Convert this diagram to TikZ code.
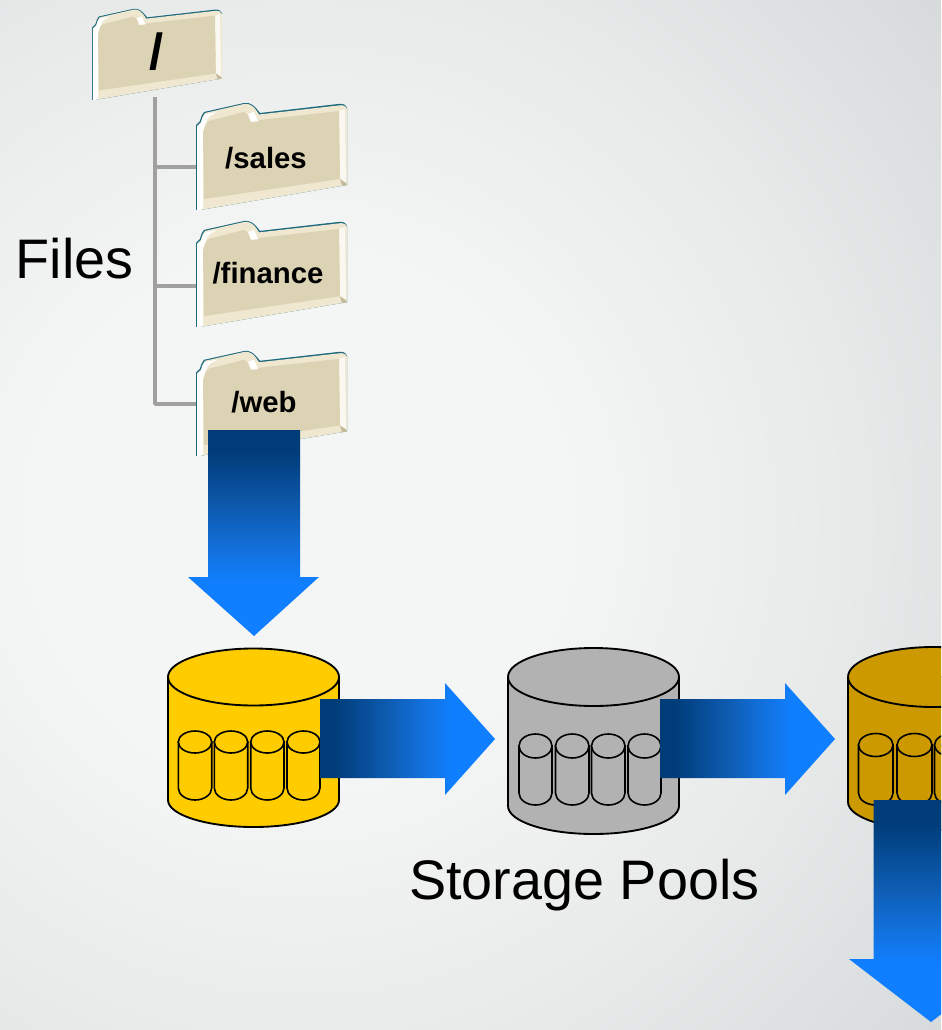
\documentclass[tikz,border=0pt]{standalone}
\usepackage{fontspec}
\setmainfont{Liberation Sans}
\definecolor{bgA}{HTML}{F4F5F5}
\definecolor{bgB}{HTML}{E9EBEB}
\definecolor{bgC}{HTML}{D6DADA}
\definecolor{arrowdark}{HTML}{003C78}
\definecolor{arrowmid}{HTML}{0E5DB4}
\definecolor{arrowhigh}{HTML}{1270DC}
\definecolor{arrowlight}{HTML}{107FFF}
\definecolor{foldertealc}{HTML}{1D6A80}
\definecolor{foldercream}{HTML}{EFE7CF}
\definecolor{folderface}{HTML}{DCD2B4}
\definecolor{folderedge}{HTML}{C4BA9C}
\definecolor{treeline}{HTML}{A0A0A0}
\definecolor{poolyellow}{HTML}{FFCC00}
\definecolor{poolgray}{HTML}{B2B2B2}
\definecolor{pooltan}{HTML}{CC9900}
\pgfdeclareradialshading{bgshade}{\pgfpoint{0bp}{0bp}}{color(0bp)=(bgA);color(8bp)=(bgA);color(16bp)=(bgB);color(25bp)=(bgC);color(50bp)=(bgC)}
\pgfdeclareverticalshading{downgrad}{100bp}{color(0bp)=(arrowlight);color(38bp)=(arrowlight);color(46bp)=(arrowhigh);color(55bp)=(arrowmid);color(70bp)=(arrowdark);color(100bp)=(arrowdark)}
\pgfdeclarehorizontalshading{rightgrad}{100bp}{color(0bp)=(arrowdark);color(29bp)=(arrowdark);color(45bp)=(arrowmid);color(54bp)=(arrowhigh);color(63bp)=(arrowlight);color(100bp)=(arrowlight)}
\tikzset{
  labeltext/.style={font=\fontsize{41.8}{42}\selectfont,inner sep=0pt,anchor=base west},
  foldertext/.style={font=\fontsize{22}{22}\selectfont\bfseries,inner sep=0pt},
  treeconn/.style={draw=treeline,line width=2.6pt},
  poolline/.style={draw=black,line width=1.4pt},
  drumline/.style={draw=black,line width=1.2pt},
}
% name, x, y, xscale, yscale
\newcommand{\folderbox}[5]{%
  \begin{scope}[shift={(#2,#3)},xscale=#4,yscale=#5]
    \fill[foldertealc] (0,108)--(0,23)--(4,19) .. controls (5,15) and (6,12) .. (8,10)--(48,1) .. controls (54,0) and (58,3) .. (64,11)--(142,2) .. controls (147,1) and (150,3) .. (151,6)--(151,83)--(4,108)--cycle;
    \fill[foldercream] (1,108)--(1,24)--(5,20) .. controls (6,16) and (7,13) .. (9,11)--(48,2) .. controls (54,1) and (58,4) .. (63,12.5)--(142,3.5) .. controls (147,2.5) and (150,4) .. (151,7)--(151,83)--(4,108)--cycle;
    \fill[white] (1.2,108)--(1.2,24.5)--(5,21) .. controls (6,17) and (8,13) .. (10,12)--(21,10)--(14,14) .. controls (11,17) and (8,24) .. (7,30)--(7,107)--(4,108)--cycle;
    \fill[white!70!foldercream] (143,9)--(149,7)--(150,81)--(144,77)--cycle;
    \fill[folderedge] (144,77)--(150,81)--(151,83)--(146,84)--cycle;
    \fill[folderface] (7,32) .. controls (8,26) and (10,21) .. (13,19)--(48,10)--(52,13)--(55,20)--(61,20)--(64,18)--(143,9)--(144,77)--(8,97)--cycle;
    \fill[white] (52,12)--(58,10)--(62,19)--(55,20)--cycle;
    \coordinate (#1left) at (0,65);
    \coordinate (#1bottom) at (72,95);
  \end{scope}}
% name, x-left, x-right, rim y, ry, side end y, bottom y, fill
\newcommand{\poolbody}[8]{%
  \pgfmathsetmacro{\rxx}{(#3-#2)/2}
  \pgfmathsetmacro{\cxx}{(#3+#2)/2}
  \pgfmathsetmacro{\ryb}{#7-#6}
  \coordinate (#1) at (\cxx,#4);
  \filldraw[poolline,fill=#8] (#2,#4) -- (#2,#6) .. controls (#2,#6+0.55*\ryb) and (\cxx-0.55*\rxx,#7) .. (\cxx,#7) .. controls (\cxx+0.55*\rxx,#7) and (#3,#6+0.55*\ryb) .. (#3,#6) -- (#3,#4) -- cycle;
  \filldraw[poolline,fill=#8] (\cxx,#4) ellipse[x radius=\rxx,y radius=#5];
}
% x-left, x-right, centre y, ry, side end y, bottom y, fill
\newcommand{\drum}[7]{%
  \pgfmathsetmacro{\rxd}{(#2-#1)/2}
  \pgfmathsetmacro{\cxd}{(#2+#1)/2}
  \pgfmathsetmacro{\ryd}{#6-#5}
  \filldraw[drumline,fill=#7] (#1,#3) -- (#1,#5) .. controls (#1,#5+0.55*\ryd) and (\cxd-0.55*\rxd,#6) .. (\cxd,#6) .. controls (\cxd+0.55*\rxd,#6) and (#2,#5+0.55*\ryd) .. (#2,#5) -- (#2,#3) -- cycle;
  \filldraw[drumline,fill=#7] (\cxd,#3) ellipse[x radius=\rxd,y radius=#4];
}
\begin{document}
\begin{tikzpicture}[x=0.75pt,y=-0.75pt]
\useasboundingbox (0,0) rectangle (941,1030);
\clip (0,0) rectangle (941,1030);
\shade[shading=bgshade] (300,520) circle[radius=830];

\coordinate (trunktop) at (155,97);
\coordinate (saleselbow) at (155,167);
\coordinate (financeelbow) at (155,286);
\coordinate (webelbow) at (155,404);
\coordinate (salesend) at (197,167);
\coordinate (financeend) at (197,286);
\coordinate (webend) at (197,404);
\draw[treeconn,line join=round] (trunktop) -- (webelbow) -- (webend);
\draw[treeconn] (saleselbow) -- (salesend);
\draw[treeconn] (financeelbow) -- (financeend);

\folderbox{root}{92}{8}{0.86}{0.85}
\folderbox{sales}{196}{102}{1}{1}
\folderbox{finance}{196}{220}{1}{0.99}
\folderbox{web}{196}{350}{1}{0.98}

\node[foldertext,font=\fontsize{38}{38}\selectfont\bfseries] (rootlabel) at (157,52) {/};
\node[foldertext] (saleslabel) at (266,158) {/sales};
\node[foldertext] (financelabel) at (268,273) {/finance};
\node[foldertext] (weblabel) at (264,402) {/web};

\node[labeltext] (fileslabel) at (15.5,278) {Files};
\node[labeltext] (poolslabel) at (409,899) {Storage Pools};

\poolbody{poolA}{168}{339}{677}{28.5}{800}{827}{poolyellow}
\drum{178.3}{211.7}{742}{11}{788}{800}{poolyellow}
\drum{214.3}{247.7}{742}{11}{788}{800}{poolyellow}
\drum{250.7}{284}{742}{11}{788}{800}{poolyellow}
\drum{287}{320}{742}{11}{788}{800}{poolyellow}

\poolbody{poolB}{508}{679}{677}{29}{806}{834}{poolgray}
\drum{519}{552}{746}{12}{793}{805}{poolgray}
\drum{555.5}{589}{746}{12}{793}{805}{poolgray}
\drum{591.5}{625}{746}{12}{793}{805}{poolgray}
\drum{628}{661}{746}{12}{793}{805}{poolgray}

\poolbody{poolC}{848}{1019}{677}{30}{802}{830}{pooltan}
\drum{858.5}{893}{745}{11.5}{793}{805}{pooltan}
\drum{897}{932}{745}{11.5}{793}{805}{pooltan}
\drum{934.5}{970}{745}{11.5}{793}{805}{pooltan}

\path[shading=downgrad] (208,430)--(300,430)--(300,577)--(319,577)--(254,636)--(188,577)--(208,577)--cycle;
\path[shading=rightgrad] (320,699)--(445,699)--(445,683)--(495,739)--(445,795)--(445,778)--(320,778)--cycle;
\path[shading=rightgrad] (660,699)--(785,699)--(785,683)--(835,739)--(785,795)--(785,778)--(660,778)--cycle;
\path[shading=downgrad] (873.5,800)--(988.5,800)--(988.5,959)--(1013,959)--(931,1022)--(849,959)--(873.5,959)--cycle;
\end{tikzpicture}
\end{document}
